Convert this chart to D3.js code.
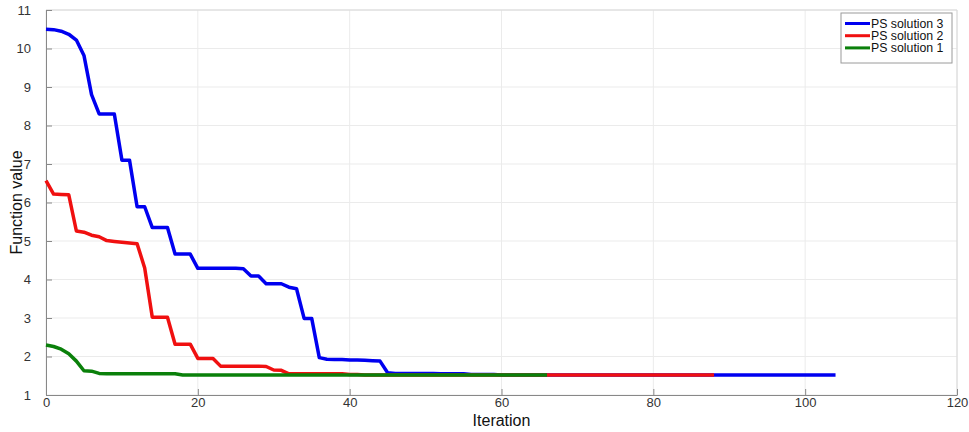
<!DOCTYPE html>
<html>
<head>
<meta charset="utf-8">
<script src="https://cdn.jsdelivr.net/npm/d3@7"></script>
<style>
  html, body { margin: 0; padding: 0; background: #fff; }
  svg { display: block; font-family: "Liberation Sans", Arial, sans-serif; }
  .tick text { fill: #333; font-size: 13px; }
</style>
</head>
<body>
<svg id="chart" width="969" height="432"></svg>
<script>
// Convergence of the three PS solutions, function value per iteration
const SERIES_NAMES = ['PS solution 3', 'PS solution 2', 'PS solution 1'];
const SERIES_COLORS = ['#0000f0', '#f01010', '#0a800a'];

const PS3 = [
  10.5, 10.49, 10.45, 10.37, 10.22, 9.82, 8.8, 8.3, 8.3, 8.3,
  7.1, 7.1, 5.89, 5.89, 5.35, 5.35, 5.35, 4.66, 4.66, 4.66,
  4.29, 4.29, 4.29, 4.29, 4.29, 4.29, 4.28, 4.09, 4.09, 3.89,
  3.89, 3.89, 3.8, 3.76, 2.99, 2.99, 1.97, 1.93, 1.92, 1.92,
  1.91, 1.91, 1.9, 1.89, 1.88, 1.58, 1.56, 1.56, 1.56, 1.56,
  1.56, 1.56, 1.555, 1.555, 1.55, 1.55, 1.53, 1.53, 1.53, 1.53,
  1.52, 1.52, 1.52, 1.52, 1.52, 1.52, 1.52, 1.52, 1.52, 1.52,
  1.52, 1.52, 1.52, 1.52, 1.52, 1.52, 1.52, 1.52, 1.52, 1.52,
  1.52, 1.52, 1.52, 1.52, 1.52, 1.52, 1.52, 1.52, 1.52, 1.52,
  1.52, 1.52, 1.52, 1.52, 1.52, 1.52, 1.52, 1.52, 1.52, 1.52,
  1.52, 1.52, 1.52, 1.52, 1.52
];
const PS2 = [
  6.57, 6.22, 6.21, 6.2, 5.26, 5.23, 5.15, 5.11, 5.01, 4.99,
  4.97, 4.95, 4.93, 4.3, 3.02, 3.02, 3.02, 2.32, 2.32, 2.32,
  1.95, 1.95, 1.95, 1.75, 1.75, 1.75, 1.75, 1.75, 1.75, 1.74,
  1.65, 1.64, 1.55, 1.55, 1.55, 1.55, 1.55, 1.55, 1.55, 1.55,
  1.53, 1.53, 1.52, 1.52, 1.52, 1.52, 1.52, 1.52, 1.52, 1.52,
  1.52, 1.52, 1.52, 1.52, 1.52, 1.52, 1.52, 1.52, 1.52, 1.52,
  1.52, 1.52, 1.52, 1.52, 1.52, 1.52, 1.52, 1.52, 1.52, 1.52,
  1.52, 1.52, 1.52, 1.52, 1.52, 1.52, 1.52, 1.52, 1.52, 1.52,
  1.52, 1.52, 1.52, 1.52, 1.52, 1.52, 1.52, 1.52, 1.52
];
const PS1 = [
  2.3, 2.26, 2.19, 2.07, 1.88, 1.63, 1.62, 1.56, 1.555, 1.555,
  1.555, 1.555, 1.555, 1.555, 1.555, 1.555, 1.555, 1.55, 1.52, 1.52,
  1.52, 1.52, 1.52, 1.52, 1.52, 1.52, 1.52, 1.52, 1.52, 1.52,
  1.52, 1.52, 1.52, 1.52, 1.52, 1.52, 1.52, 1.52, 1.52, 1.52,
  1.52, 1.52, 1.52, 1.52, 1.52, 1.52, 1.52, 1.52, 1.52, 1.52,
  1.52, 1.52, 1.52, 1.52, 1.52, 1.52, 1.52, 1.52, 1.52, 1.52,
  1.52, 1.52, 1.52, 1.52, 1.52, 1.52, 1.52
];

const X_TICKS = [0, 20, 40, 60, 80, 100, 120];
const Y_TICKS = [1, 2, 3, 4, 5, 6, 7, 8, 9, 10, 11];

const svg = d3.select('#chart');
const L = 46, R = 957, T = 10, B = 395;

const x = d3.scaleLinear().domain([0, 120]).range([L, R]);
const y = d3.scaleLinear().domain([1, 11]).range([B, T]);

// --- grid ---
const grid = svg.append('g').attr('stroke', '#ebebeb').attr('stroke-width', 1);
X_TICKS.forEach(t => grid.append('line')
  .attr('x1', x(t)).attr('x2', x(t)).attr('y1', T).attr('y2', B));
Y_TICKS.forEach(t => grid.append('line')
  .attr('x1', L).attr('x2', R).attr('y1', y(t)).attr('y2', y(t)));

// box top/right, light
svg.append('path')
  .attr('d', `M${L},${T}H${R}V${B}`)
  .attr('fill', 'none').attr('stroke', '#d8d8d8');

// --- axes, ticks pointing inwards ---
const xAxis = svg.append('g')
  .attr('transform', `translate(0,${B})`)
  .call(d3.axisBottom(x).tickValues(X_TICKS).tickSizeInner(-6).tickSizeOuter(0).tickPadding(3));
const yAxis = svg.append('g')
  .attr('transform', `translate(${L},0)`)
  .call(d3.axisLeft(y).tickValues(Y_TICKS).tickSizeInner(-6).tickSizeOuter(0).tickPadding(15));
[xAxis, yAxis].forEach(a => {
  a.select('.domain').attr('stroke', '#888');
  a.selectAll('.tick line').attr('stroke', '#888');
});

// --- series (drawn 3, 2, 1 so solution 1 sits on top) ---
const line = d3.line().x((d, i) => x(i)).y(d => y(d));
[PS3, PS2, PS1].forEach((s, k) => {
  svg.append('path')
    .datum(s)
    .attr('d', line)
    .attr('fill', 'none')
    .attr('stroke', SERIES_COLORS[k])
    .attr('stroke-width', 3.5)
    .attr('stroke-linejoin', 'round');
});

// --- axis labels ---
svg.append('text')
  .attr('x', (L + R) / 2).attr('y', 426)
  .attr('text-anchor', 'middle')
  .attr('font-size', 16).attr('fill', '#111')
  .text('Iteration');
svg.append('text')
  .attr('transform', `translate(22,${(T + B) / 2}) rotate(-90)`)
  .attr('text-anchor', 'middle')
  .attr('font-size', 16).attr('fill', '#111')
  .text('Function value');

// --- legend ---
const lg = svg.append('g').attr('transform', 'translate(841,13)');
lg.append('rect')
  .attr('width', 111).attr('height', 50)
  .attr('fill', '#fff').attr('stroke', '#9a9a9a');
SERIES_NAMES.forEach((name, k) => {
  const yy = 10.5 + k * 12.2;
  lg.append('line')
    .attr('x1', 4).attr('x2', 29).attr('y1', yy).attr('y2', yy)
    .attr('stroke', SERIES_COLORS[k]).attr('stroke-width', 3);
  lg.append('text')
    .attr('x', 30).attr('y', yy).attr('dy', '0.35em')
    .attr('font-size', 12.3).attr('fill', '#111')
    .text(name);
});
</script>
</body>
</html>
